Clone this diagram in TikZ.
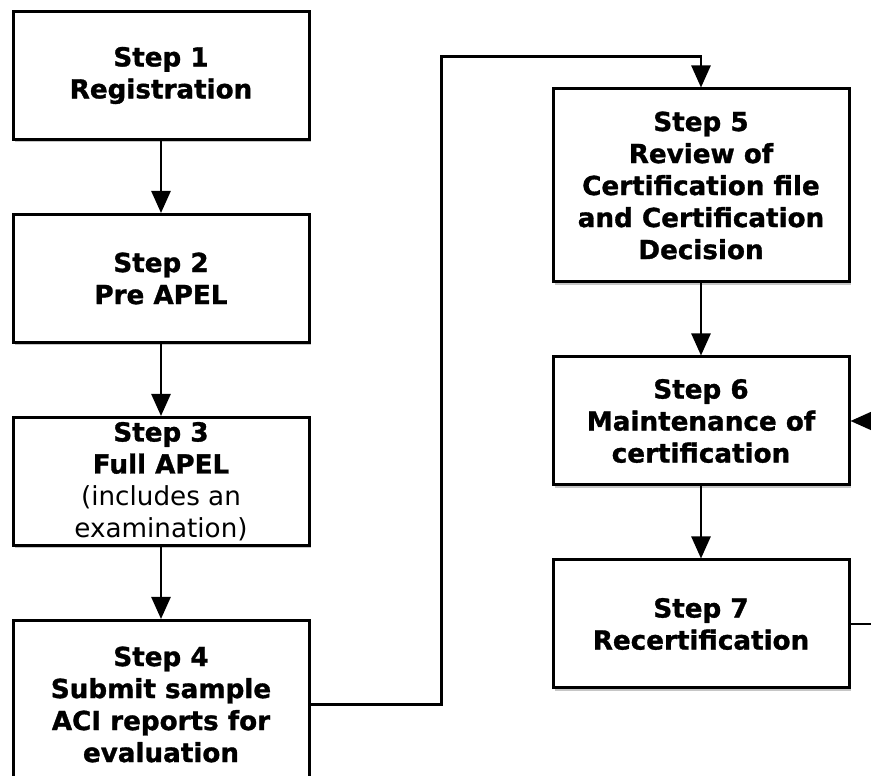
\documentclass[tikz,border=0pt]{standalone}
\usepackage{fontspec}
\setmainfont{DejaVu Sans}[BoldFeatures={FakeBold=1.2}]
\usepackage{tikz}
\usetikzlibrary{arrows.meta,positioning,shadows}

\begin{document}
\begin{tikzpicture}[x=1pt,y=1pt]
	\useasboundingbox (0,0) rectangle (871,776);
	\clip (0,0) rectangle (871,776);
	\begin{scope}[every node/.style={rectangle,draw,line width=3pt,fill=white,minimum width=296pt,minimum height=128pt,align=center,inner sep=0pt,font=\fontsize{26.2}{32}\selectfont\bfseries,drop shadow={shadow xshift=1.5pt,shadow yshift=-3pt,opacity=0.45}},node distance=72pt]
		\node (S1) at (161,700.5) {Step 1\\Registration};
		\node[below =of S1] (S2) {Step 2\\Pre APEL};
		\node[below =of S2] (S3) {Step 3\\Full APEL\\\mdseries(includes an\\\mdseries examination)};
		\node[below =of S3,minimum height=168pt] (S4) {Step 4\\Submit sample\\ACI reports for\\evaluation};

		\node[minimum height=193pt] (S5) at (701,590.5) {Step 5\\Review of\\Certification file\\and Certification\\Decision};
		\node[below =of S5] (S6) {Step 6\\Maintenance of\\certification};
		\node[below =of S6] (S7) {Step 7\\Recertification};
	\end{scope}

	\begin{scope}[line width=2.6pt,>={Triangle[length=22pt,width=19pt]}]
	\draw[->] (S1) -- (S2);
	\draw[->] (S2) -- (S3);
	\draw[->] (S3) -- (S4);
	\draw[->] (S4.east) -- ++(131,0) |- ([yshift=31pt]S5.north) -- (S5.north);
	\draw[->] (S5) -- (S6);
	\draw[->] (S6) -- (S7);
	\draw[->] (S7.east) -- ++(40,0) |- (S6.east);
	\end{scope}
\end{tikzpicture}
\end{document}
